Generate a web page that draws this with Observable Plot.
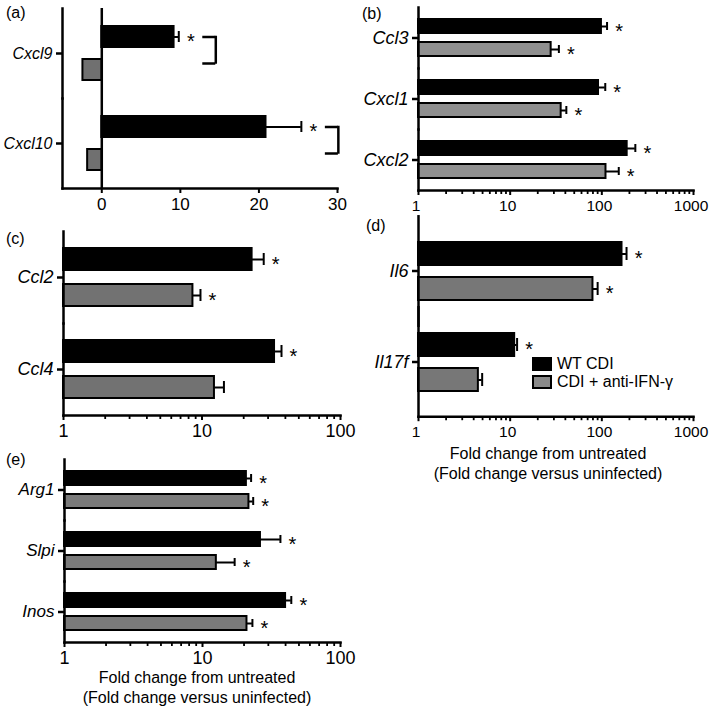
<!DOCTYPE html>
<html>
<head>
<meta charset="utf-8">
<script src="https://cdn.jsdelivr.net/npm/d3@7"></script>
<script src="https://cdn.jsdelivr.net/npm/@observablehq/plot@0.6"></script>
<style>
  html, body { margin: 0; padding: 0; background: #fff; }
  #fig { position: relative; width: 709px; height: 716px; overflow: hidden;
         font-family: "Liberation Sans", Arial, Helvetica, sans-serif; color: #000; }
  .abs { position: absolute; }
  .plab { font-size: 16px; line-height: 16px; }
  .xlab { font-size: 16px; line-height: 20px; text-align: center; white-space: nowrap; transform: translateX(-50%); }
  .legend { font-size: 16px; line-height: 18px; }
  .legend .row { display: flex; align-items: center; height: 18px; }
  .legend .sw { width: 20px; height: 14px; box-sizing: border-box; border: 2px solid #000; margin-right: 5px; }
  g[aria-label="fy-axis tick label"] text, g[aria-label="fy-axis tick label"] { font-style: italic; }
</style>
</head>
<body>
<div id="fig"></div>
<script>
// ---------- data ----------
const seriesNames = ["WT CDI", "CDI + anti-IFN-γ"];
const panelLetters = ["(a)", "(b)", "(c)", "(d)", "(e)"];
const axisTitle = ["Fold change from untreated", "(Fold change versus uninfected)"];

// (a) linear scale
const genesA = ["Cxcl9", "Cxcl10"];
const wtA = [9.2, 20.9];
const wtHiA = [9.8, 25.4];
const antiA = [-2.4, -1.8];
const antiHiA = [null, null];
const wtSigA = [true, true];
const antiSigA = [false, false];
const ticksA = [0, 10, 20, 30];

// (b)
const genesB = ["Ccl3", "Cxcl1", "Cxcl2"];
const wtB = [99, 92, 189];
const wtHiB = [114, 109, 232];
const antiB = [28, 36, 111];
const antiHiB = [34, 41, 153];
const wtSigB = [true, true, true];
const antiSigB = [true, true, true];

// (c)
const genesC = ["Ccl2", "Ccl4"];
const wtC = [23, 33.4];
const wtHiC = [27.9, 37.5];
const antiC = [8.6, 12.3];
const antiHiC = [9.75, 14.4];
const wtSigC = [true, true];
const antiSigC = [true, false];

// (d)
const genesD = ["Il6", "Il17f"];
const wtD = [166, 11.2];
const wtHiD = [186, 11.9];
const antiD = [80, 4.5];
const antiHiD = [90, 4.95];
const wtSigD = [true, true];
const antiSigD = [true, false];

// (e)
const genesE = ["Arg1", "Slpi", "Inos"];
const wtE = [20.8, 26.3, 40];
const wtHiE = [22.5, 36.7, 44];
const antiE = [21.7, 12.6, 21];
const antiHiE = [23.3, 17.1, 23];
const wtSigE = [true, true, true];
const antiSigE = [true, true, true];

const logTicks1000 = [1, 10, 100, 1000];
const logTicks100 = [1, 10, 100];

// ---------- helpers ----------
function rows(genes, wt, wtHi, anti, antiHi, wtSig, antiSig) {
  return genes.flatMap((g, i) => [
    {gene: g, series: seriesNames[0], value: wt[i], hi: wtHi[i], sig: wtSig[i]},
    {gene: g, series: seriesNames[1], value: anti[i], hi: antiHi[i], sig: antiSig[i]}
  ]);
}
function minorLog(major) {
  const out = [];
  for (let i = 0; i < major.length - 1; i++) for (let k = 2; k <= 9; k++) out.push(k * major[i]);
  return out;
}

const fig = document.getElementById("fig");
function place(el, left, top) {
  el.classList.add("abs");
  el.style.left = left + "px";
  el.style.top = top + "px";
  fig.appendChild(el);
  return el;
}

function makePanel(cfg) {
  const {data, genes, type, domain, major, gray, width, height, margin, fyOpts, yPad, cap, zero, bracket,
         tickFont, geneFont, ext = 0, labelDx = 0} = cfg;
  const base = type === "log" ? domain[0] : 0;
  const err = data.filter(d => d.hi != null);
  const sig = data.filter(d => d.sig);
  const marks = [];
  if (zero) marks.push(Plot.ruleX([0], {stroke: "#000", strokeWidth: 2.5}));
  marks.push(
    Plot.barX(data, {fy: "gene", y: "series", x1: () => base, x2: "value", fill: "series", stroke: "#000", strokeWidth: 2}),
    Plot.ruleY(err, {fy: "gene", y: "series", x1: "value", x2: "hi", stroke: "#000", strokeWidth: 2}),
    Plot.tickX(err, {fy: "gene", y: "series", x: "hi", stroke: "#000", strokeWidth: 2, insetTop: cap, insetBottom: cap}),
    Plot.text(sig, {fy: "gene", y: "series", x: "hi", text: () => "*", dx: 12, dy: 5, fontSize: 20, fill: "#000"}),
    Plot.frame({anchor: "left", stroke: "#000", strokeWidth: 2.5, insetTop: -ext, insetBottom: -ext}),
    Plot.frame({anchor: "bottom", stroke: "#000", strokeWidth: 2.5, facetAnchor: "bottom", dy: ext})
  );
  if (bracket) {
    const br = data.filter(d => d.series === seriesNames[0]);
    marks.push(
      Plot.ruleY(br, {fy: "gene", y: "series", x1: "hi", x2: "hi", insetLeft: 24, insetRight: -37, stroke: "#000", strokeWidth: 2.5}),
      Plot.ruleY(br, {fy: "gene", y: "series", x1: "hi", x2: "hi", insetLeft: 24, insetRight: -37, dy: 26.5, stroke: "#000", strokeWidth: 2.5}),
      Plot.tickX(br, {fy: "gene", y: "series", x: "hi", dx: 37, insetTop: bracket.top, insetBottom: bracket.bottom, stroke: "#000", strokeWidth: 2.5, strokeLinecap: "square"})
    );
  }
  if (type === "log") {
    marks.push(Plot.axisX({ticks: minorLog(major), tickSize: 4, tickFormat: () => "", stroke: "#000", strokeWidth: 1.8, label: null, dy: ext}));
  }
  marks.push(
    // major tick lines
    Plot.axisX({ticks: major, tickSize: 5, tickFormat: () => "", stroke: "#000", strokeWidth: 2, label: null, dy: ext}),
    // major tick labels
    Plot.axisX({ticks: major, tickSize: 0, tickPadding: 9, tickFormat: d => String(d), fontSize: tickFont, fill: "#000", label: null, dy: ext, dx: labelDx}),
    Plot.axisFy({anchor: "left", tickSize: 6, tickPadding: 4, fontSize: geneFont, fontStyle: "italic", stroke: "#000", strokeWidth: 2.5, label: null})
  );
  return Plot.plot({
    width, height,
    marginTop: margin[0], marginRight: margin[1], marginBottom: margin[2], marginLeft: margin[3],
    style: {fontFamily: "'Liberation Sans', Arial, Helvetica, sans-serif", fontSize: "15px", color: "#000", background: "transparent", overflow: "visible"},
    x: {type: type, domain: domain, axis: null},
    y: {domain: seriesNames, paddingInner: yPad[0], paddingOuter: yPad[1], axis: null},
    fy: Object.assign({domain: genes, axis: null, paddingInner: 0, paddingOuter: 0}, fyOpts || {}),
    color: {domain: seriesNames, range: ["#000000", gray]},
    marks
  });
}

// ---------- panels ----------
const panels = [
  {left: 0, top: 0, cfg: {data: rows(genesA, wtA, wtHiA, antiA, antiHiA, wtSigA, antiSigA), genes: genesA, type: "linear", domain: [-5, 30], major: ticksA,
    gray: "#707070", width: 350, height: 225, margin: [7, 13, 37, 62], yPad: [0.35, 0.5], cap: 5, zero: true, bracket: {top: 11, bottom: -15.5},
    tickFont: 17, geneFont: 16}},
  {left: 355, top: 0, cfg: {data: rows(genesB, wtB, wtHiB, antiB, antiHiB, wtSigB, antiSigB), genes: genesB, type: "log", domain: [1, 1000], major: logTicks1000,
    gray: "#8f8f8f", width: 354, height: 225, margin: [6, 16, 35, 63], yPad: [0.375, 0.46], cap: 3, tickFont: 15.5, labelDx: -2.5, geneFont: 18}},
  {left: 0, top: 225, cfg: {data: rows(genesC, wtC, wtHiC, antiC, antiHiC, wtSigC, antiSigC), genes: genesC, type: "log", domain: [1, 100], major: logTicks100,
    gray: "#727272", width: 350, height: 225, margin: [6, 10, 35, 63], yPad: [0.4, 0.45], cap: 5, tickFont: 18, geneFont: 18}},
  {left: 355, top: 210, cfg: {data: rows(genesD, wtD, wtHiD, antiD, antiHiD, wtSigD, antiSigD), genes: genesD, type: "log", domain: [1, 1000], major: logTicks1000,
    gray: "#777777", width: 354, height: 240, margin: [5, 16, 33, 63], fyOpts: {paddingOuter: 0.1}, yPad: [0.356, 0.47], cap: 5, ext: 9.2,
    tickFont: 15.5, labelDx: -2.5, geneFont: 18}},
  {left: 0, top: 450, cfg: {data: rows(genesE, wtE, wtHiE, antiE, antiHiE, wtSigE, antiSigE), genes: genesE, type: "log", domain: [1, 100], major: logTicks100,
    gray: "#7a7a7a", width: 350, height: 225, margin: [9, 10, 33, 64], yPad: [0.375, 0.46], cap: 3, tickFont: 18, geneFont: 17}}
];
panels.forEach(p => place(makePanel(p.cfg), p.left, p.top));

// panel letters
const letterPos = [[6, 5], [362, 6], [6, 231], [366, 218], [6, 452]];
panelLetters.forEach((t, i) => {
  const d = document.createElement("div");
  d.className = "plab";
  d.textContent = t;
  place(d, letterPos[i][0], letterPos[i][1]);
});

// axis titles (under panels d and e)
[[548, 444], [197, 668]].forEach(([cx, top]) => {
  const d = document.createElement("div");
  d.className = "xlab";
  d.innerHTML = axisTitle.map(s => `<div>${s}</div>`).join("");
  place(d, cx, top);
});

// legend
const legendColors = ["#000000", "#8a8a8a"];
const lg = document.createElement("div");
lg.className = "legend";
seriesNames.forEach((s, i) => {
  const r = document.createElement("div");
  r.className = "row";
  const sw = document.createElement("span");
  sw.className = "sw";
  sw.style.background = legendColors[i];
  const tx = document.createElement("span");
  tx.textContent = s;
  r.appendChild(sw); r.appendChild(tx);
  lg.appendChild(r);
});
place(lg, 532, 355);
</script>
</body>
</html>
